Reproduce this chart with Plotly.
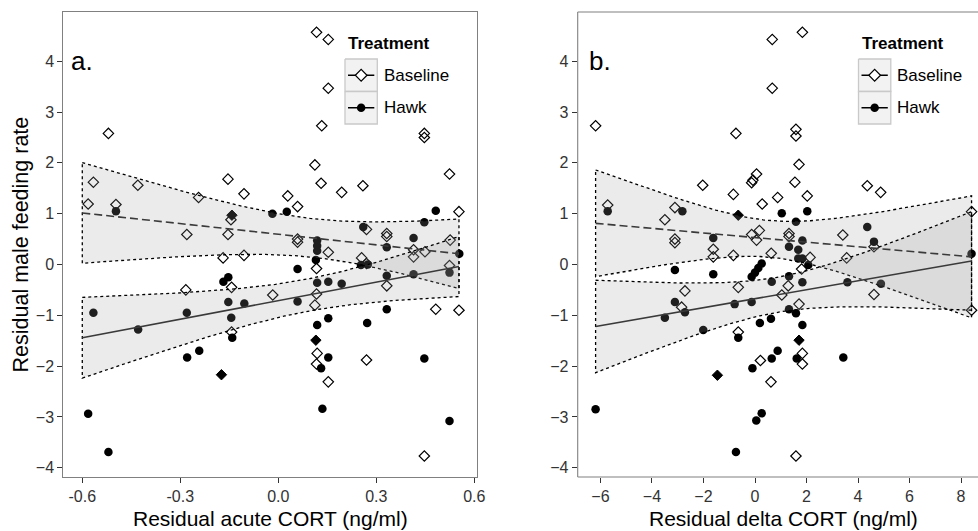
import numpy as np
import plotly.graph_objects as go

W, H = 978, 531
FONT = "Liberation Sans, Arial, sans-serif"

# ---------------- data ----------------
# Panel a: residual acute CORT vs residual male feeding rate
a_base_x = [-0.520, -0.566, -0.582, -0.497, -0.430, -0.244, -0.154, -0.105, -0.145, -0.154,
            -0.280, -0.169, -0.105, -0.283, -0.143, -0.143, -0.017, 0.117, 0.153, 0.153,
            0.133, 0.447, 0.447, 0.112, 0.131, 0.194, 0.259, 0.524, 0.029, 0.059,
            0.553, 0.059, 0.059, 0.153, 0.270, 0.332, 0.332, 0.255, 0.414, 0.414,
            0.449, 0.526, 0.524, 0.117, 0.270, 0.332, 0.117, 0.112, 0.482, 0.553,
            0.119, 0.117, 0.153, 0.270, 0.447]
a_base_y = [2.58, 1.62, 1.19, 1.18, 1.56, 1.32, 1.68, 1.39, 0.88, 0.59,
            0.59, 0.13, 0.18, -0.50, -0.45, -1.33, -0.60, 4.57, 4.43, 3.47,
            2.73, 2.58, 2.50, 1.96, 1.60, 1.42, 1.55, 1.78, 1.35, 1.14,
            1.04, 0.50, 0.44, 0.24, 0.69, 0.61, 0.55, 0.13, 0.29, 0.15,
            0.25, 0.48, -0.02, -0.08, 0.02, -0.42, -0.58, -0.80, -0.88, -0.90,
            -1.75, -1.96, -2.31, -1.88, -3.77]
a_hawk_x = [-0.497, -0.018, -0.153, -0.168, -0.566, -0.153, -0.104, -0.280, -0.144, -0.429,
            -0.141, -0.242, -0.279, -0.582, -0.520, 0.026, 0.482, 0.447, 0.260, 0.414,
            0.332, 0.119, 0.119, 0.119, 0.115, 0.554, 0.253, 0.274, 0.059, 0.332,
            0.414, 0.524, 0.119, 0.153, 0.194, 0.059, 0.332, 0.153, 0.119, 0.272,
            0.153, 0.131, 0.447, 0.135, 0.524]
a_hawk_y = [1.05, 1.00, -0.25, -0.34, -0.95, -0.74, -0.77, -0.95, -1.05, -1.28,
            -1.44, -1.70, -1.83, -2.94, -3.69, 1.04, 1.06, 0.83, 0.74, 0.52,
            0.34, 0.47, 0.37, 0.27, 0.09, 0.21, -0.01, 0.00, -0.09, -0.22,
            -0.19, -0.16, -0.36, -0.34, -0.38, -0.73, -0.88, -1.06, -1.19, -1.15,
            -1.83, -2.04, -1.85, -2.84, -3.08]
a_solid_x = [-0.142, -0.174, 0.115]
a_solid_y = [0.97, -2.17, -1.49]

# Panel b: residual delta CORT vs residual male feeding rate
b_base_x = [-6.19, -5.72, -2.03, -0.74, -0.84, -0.13, 0.06, -0.08, 0.28, -3.11,
            -3.50, -3.11, -3.11, -1.62, -1.62, -0.84, -0.13, 0.17, 0.06, 0.63,
            -0.65, -2.72, -2.85, -0.65, 0.21, 0.62, 0.67, 1.84, 0.67, 1.59,
            1.59, 1.71, 1.55, 2.03, 0.88, 4.36, 4.88, 1.32, 1.32, 3.41,
            4.62, 8.41, 2.14, 3.56, 1.81, 1.29, 1.04, 1.71, 4.62, 8.41,
            1.84, 1.84, 1.59]
b_base_y = [2.73, 1.17, 1.56, 2.58, 1.38, 1.61, 1.78, 1.66, 1.19, 1.12,
            0.88, 0.50, 0.43, 0.30, 0.15, 0.18, 0.59, 0.67, 0.48, 0.22,
            -0.45, -0.52, -0.84, -1.33, -1.89, -2.31, 4.43, 4.57, 3.47, 2.66,
            2.53, 1.97, 1.62, 1.35, 1.32, 1.55, 1.42, 0.61, 0.55, 0.58,
            0.35, 1.04, 0.14, 0.13, -0.09, -0.42, -0.60, -0.78, -0.59, -0.90,
            -1.75, -1.96, -3.77]
b_hawk_x = [-5.72, -2.82, -1.62, -3.11, -1.62, 0.26, 0.13, 0.00, -0.13, -3.11,
            -2.72, -3.50, -0.79, -0.13, -2.01, -0.65, 0.19, 0.62, 0.65, -0.10,
            0.65, -6.19, 0.05, 0.26, -0.74, 1.04, 2.03, 1.59, 4.36, 4.62,
            1.84, 1.32, 1.68, 1.84, 1.68, 2.07, 8.41, 1.32, 1.84, 3.59,
            4.89, 1.32, 1.59, 1.84, 0.88, 1.62, 3.43]
b_hawk_y = [1.05, 1.05, 0.52, -0.11, -0.19, 0.02, -0.07, -0.16, -0.24, -0.74,
            -0.94, -1.05, -0.78, -0.74, -1.29, -1.44, -1.15, -1.07, -0.34, -2.04,
            -1.85, -2.85, -3.07, -2.93, -3.69, 1.01, 1.05, 0.84, 0.74, 0.45,
            0.47, 0.35, 0.29, 0.12, 0.12, -0.01, 0.21, -0.23, -0.35, -0.35,
            -0.38, -0.88, -0.96, -1.19, -1.70, -1.85, -1.83]
b_solid_x = [-0.65, -1.46, 1.71]
b_solid_y = [0.97, -2.18, -1.49]

# Fitted regression lines: [x_start, x_end], [y_start, y_end]
# and the confidence band half-width model  hw(x) = sqrt(se_a + se_b*(x - se_xc)^2)
fit_a_base_x = [-0.600, 0.553]; fit_a_base_y = [1.014, 0.210]; se_a_base = [0.144, 1.659, 0.110]
fit_a_hawk_x = [-0.600, 0.553]; fit_a_hawk_y = [-1.442, -0.040]; se_a_hawk = [0.101, 1.131, 0.085]
fit_b_base_x = [-6.19, 8.41];   fit_b_base_y = [0.81, 0.15];     se_b_base = [0.130, 0.0213, 0.567]
fit_b_hawk_x = [-6.19, 8.41];   fit_b_hawk_y = [-1.22, 0.07];    se_b_hawk = [0.119, 0.01433, 0.84]

a_xticks = [-0.6, -0.3, 0.0, 0.3, 0.6]
a_xticktext = ["-0.6", "-0.3", "0.0", "0.3", "0.6"]
b_xticks = [-6, -4, -2, 0, 2, 4, 6, 8]
y_ticks = [-4, -3, -2, -1, 0, 1, 2, 3, 4]
legend_labels = ["Baseline", "Hawk"]
legend_title = "Treatment"
x_titles = ["Residual acute CORT (ng/ml)", "Residual delta CORT (ng/ml)"]
y_title = "Residual male feeding rate"
panel_labels = ["a.", "b."]

# ---------------- figure ----------------
fig = go.Figure()

RIBBON_FILL = "rgba(153,153,153,0.2)"
DIAMOND_SIZE = 8
CIRCLE_SIZE = 8.5


def add_points(xs, ys, xa, ya, symbol, color, lw):
    fig.add_trace(go.Scatter(
        x=xs, y=ys, mode="markers", xaxis=xa, yaxis=ya, showlegend=False,
        hoverinfo="skip",
        marker=dict(symbol=symbol, size=DIAMOND_SIZE if "diamond" in symbol else CIRCLE_SIZE,
                    color=color, line=dict(color="black", width=lw))))


def add_band(fx, fy, se, xa, ya):
    xs = np.linspace(fx[0], fx[1], 120)
    slope = (fy[1] - fy[0]) / (fx[1] - fx[0])
    mid = fy[0] + slope * (xs - fx[0])
    hw = np.sqrt(se[0] + se[1] * (xs - se[2]) ** 2)
    up, lo = mid + hw, mid - hw
    px = np.concatenate([xs, xs[::-1], xs[:1]])
    py = np.concatenate([up, lo[::-1], up[:1]])
    fig.add_trace(go.Scatter(
        x=px, y=py, mode="lines", fill="toself", fillcolor=RIBBON_FILL,
        line=dict(color="black", width=1.3, dash="dot"),
        xaxis=xa, yaxis=ya, showlegend=False, hoverinfo="skip"))


def add_line(fx, fy, dash, xa, ya):
    fig.add_trace(go.Scatter(
        x=fx, y=fy, mode="lines", line=dict(color="#3a3a3a", width=1.6, dash=dash),
        xaxis=xa, yaxis=ya, showlegend=False, hoverinfo="skip"))


for xa, ya, bx, by, hx, hy, sx, sy in [
        ("x", "y", a_base_x, a_base_y, a_hawk_x, a_hawk_y, a_solid_x, a_solid_y),
        ("x2", "y2", b_base_x, b_base_y, b_hawk_x, b_hawk_y, b_solid_x, b_solid_y)]:
    add_points(hx, hy, xa, ya, "circle", "black", 0)
    add_points(bx, by, xa, ya, "diamond-open", "black", 1.2)
    add_points(sx, sy, xa, ya, "diamond", "black", 1.0)

add_band(fit_a_base_x, fit_a_base_y, se_a_base, "x", "y")
add_band(fit_a_hawk_x, fit_a_hawk_y, se_a_hawk, "x", "y")
add_band(fit_b_base_x, fit_b_base_y, se_b_base, "x2", "y2")
add_band(fit_b_hawk_x, fit_b_hawk_y, se_b_hawk, "x2", "y2")
add_line(fit_a_base_x, fit_a_base_y, "8px,4px", "x", "y")
add_line(fit_a_hawk_x, fit_a_hawk_y, "solid", "x", "y")
add_line(fit_b_base_x, fit_b_base_y, "8px,4px", "x2", "y2")
add_line(fit_b_hawk_x, fit_b_hawk_y, "solid", "x2", "y2")

# ---------------- manual legends (pixel overlay axes x3/y3) ----------------
for off in (0, 513.5):
    bx0, bx1 = 345 + off, 377.3 + off
    rows = [(59, 91.5), (91.5, 124)]
    for (t0, t1), lab in zip(rows, legend_labels):
        fig.add_trace(go.Scatter(
            x=[bx0, bx1, bx1, bx0, bx0], y=[t0, t0, t1, t1, t0], mode="lines",
            fill="toself", fillcolor="#f2f2f2", line=dict(color="#c9c9c9", width=1.3),
            xaxis="x3", yaxis="y3", showlegend=False, hoverinfo="skip"))
        cy = (t0 + t1) / 2
        cx = (bx0 + bx1) / 2
        fig.add_trace(go.Scatter(
            x=[bx0 + 3, bx1 - 3], y=[cy, cy], mode="lines",
            line=dict(color="black", width=1.5),
            xaxis="x3", yaxis="y3", showlegend=False, hoverinfo="skip"))
        if lab == "Baseline":
            mk = dict(symbol="diamond", size=9, color="white", line=dict(color="black", width=1.2))
        else:
            mk = dict(symbol="circle", size=8.5, color="black", line=dict(width=0))
        fig.add_trace(go.Scatter(
            x=[cx], y=[cy], mode="markers", marker=mk,
            xaxis="x3", yaxis="y3", showlegend=False, hoverinfo="skip"))

# ---------------- layout ----------------
A_L, A_R = 63.3, 476.7
B_L, B_R = 577.7, 978.0
P_T, P_B = 12.0, 477.0

axis_common = dict(showgrid=False, zeroline=False, ticks="outside", ticklen=5,
                   tickwidth=1, tickcolor="#333333",
                   tickfont=dict(family=FONT, size=16, color="#333333"),
                   automargin=False, fixedrange=True)
ydom = [1 - P_B / H, 1 - P_T / H]
yrange = [-4.183, 4.970]

fig.update_layout(
    template="none",
    width=W, height=H,
    margin=dict(l=0, r=0, t=0, b=0, pad=0, autoexpand=False),
    paper_bgcolor="white", plot_bgcolor="rgba(0,0,0,0)",
    showlegend=False,
    xaxis=dict(domain=[A_L / W, A_R / W], range=[-0.6581, 0.6073], anchor="y",
               tickvals=a_xticks, ticktext=a_xticktext,
               showline=True, mirror=True, linecolor="#808080", linewidth=1.1,
               **axis_common),
    yaxis=dict(domain=ydom, range=yrange, anchor="x", tickvals=y_ticks,
               showline=True, mirror=True, linecolor="#808080", linewidth=1.1,
               **axis_common),
    xaxis2=dict(domain=[B_L / W, B_R / W], range=[-6.885, 8.660], anchor="y2",
                tickvals=b_xticks, showline=False, **axis_common),
    yaxis2=dict(domain=ydom, range=yrange, anchor="x2", tickvals=y_ticks,
                showline=False, **axis_common),
    xaxis3=dict(domain=[0, 1], range=[0, W], anchor="y3", visible=False, fixedrange=True),
    yaxis3=dict(domain=[0, 1], range=[H, 0], anchor="x3", visible=False, fixedrange=True),
)

# panel b border (right edge lies beyond the picture)
for x0, y0, x1, y1 in [(0, 0, 0, 1), (0, 1, 1, 1), (0, 0, 1, 0)]:
    fig.add_shape(type="line", xref="x2 domain", yref="y2 domain",
                  x0=x0, y0=y0, x1=x1, y1=y1, line=dict(color="#808080", width=1.1))


def ann(xp, yp, text, size, bold=False, angle=0, xanchor="center", yanchor="middle"):
    fig.add_annotation(
        x=xp / W, y=1 - yp / H, xref="paper", yref="paper", text=f"<b>{text}</b>" if bold else text,
        showarrow=False, textangle=angle, xanchor=xanchor, yanchor=yanchor,
        font=dict(family=FONT, size=size, color="black"))


ann((A_L + A_R) / 2, 518.5, x_titles[0], 21)
ann((B_L + 990) / 2, 518.5, x_titles[1], 21)
ann(20, (P_T + P_B) / 2, y_title, 21.5, angle=-90)

for xa, ya, xv, lab in [("x", "y", -0.6, panel_labels[0]), ("x2", "y2", -6, panel_labels[1])]:
    fig.add_annotation(x=xv, y=4, xref=xa, yref=ya, text=lab, showarrow=False,
                       xanchor="center", yanchor="middle",
                       font=dict(family=FONT, size=26, color="black"))

for off in (0, 513.5):
    ann(346 + off, 44, legend_title, 17, bold=True, xanchor="left")
    ann(381.5 + off, 75.3, legend_labels[0], 17, xanchor="left")
    ann(381.5 + off, 107.8, legend_labels[1], 17, xanchor="left")

fig.write_html("out.html", config={"displayModeBar": False})
